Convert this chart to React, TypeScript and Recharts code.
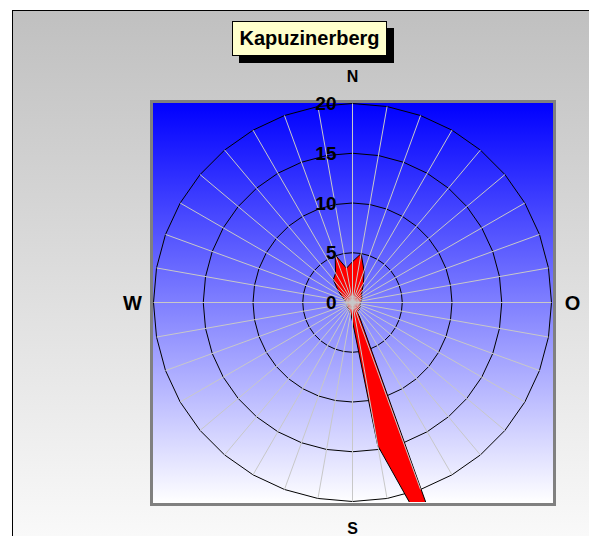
import { RadarChart, Radar, PolarGrid, PolarAngleAxis, PolarRadiusAxis } from 'recharts'

// wind direction sectors (degrees) and frequency per sector (%)
const directions = [
  0, 10, 20, 30, 40, 50, 60, 70, 80, 90, 100, 110, 120, 130, 140, 150, 160, 170,
  180, 190, 200, 210, 220, 230, 240, 250, 260, 270, 280, 290, 300, 310, 320, 330, 340, 350,
]
const frequency = [
  4.1, 5.0, 3.4, 2.2, 1.5, 1.2, 1.1, 1.0, 0.9, 0.8, 0.8, 0.8, 0.9, 0.9, 1.0, 1.0, 30, 14.6,
  1.9, 1.1, 0.9, 0.8, 0.7, 0.7, 0.6, 0.6, 0.6, 0.6, 0.7, 0.9, 1.2, 1.9, 3.0, 3.4, 5.1, 3.5,
]
const compassLabels: Record<number, string> = { 0: 'N', 90: 'O', 180: 'S', 270: 'W' }
const radiusDomain = [0, 20]
const radiusTicks = [0, 5, 10, 15, 20]
const title = 'Kapuzinerberg'

const data = directions.map((dir, i) => ({ dir, value: frequency[i] }))

const FONT = '"Liberation Sans", Arial, sans-serif'
const CX = 352.5
const CY = 302.5
const R = 199
const BORDER = 3
const W = 589
const H = 536

function AngleTick(props: any) {
  const { x, y, payload } = props
  const label = compassLabels[payload.value]
  if (!label) return <g />
  const cx = props.cx ?? CX
  const cy = props.cy ?? CY
  const dx = x - cx
  const dy = y - cy
  const len = Math.hypot(dx, dy) || 1
  const big = label === 'W' || label === 'O'
  const d = big ? 220 : 226
  return (
    <text
      x={cx + (dx / len) * d}
      y={cy + (dy / len) * d}
      textAnchor="middle"
      dominantBaseline="central"
      fontFamily={FONT}
      fontWeight="bold"
      fontSize={big ? 20 : 16}
      fill="#000"
    >
      {label}
    </text>
  )
}

function RadiusTick(props: any) {
  const { x, y, payload } = props
  return (
    <text
      x={x - 16}
      y={y}
      textAnchor="end"
      dominantBaseline="central"
      fontFamily={FONT}
      fontWeight="bold"
      fontSize={19}
      fill="#000"
    >
      {payload.value}
    </text>
  )
}

function ClippedArea(props: any) {
  const pts = (props.points || []).map((p: any) => `${p.x},${p.y}`).join(' ')
  return <polygon points={pts} fill="#ff0000" stroke="#000" strokeWidth={1} clipPath="url(#plotClip)" />
}

const layer: React.CSSProperties = { position: 'absolute', left: 0, top: 0 }

export default function App() {
  return (
    <div
      style={{
        position: 'fixed',
        left: 0,
        top: 0,
        width: W,
        height: H,
        overflow: 'hidden',
        background: '#fff',
        fontFamily: FONT,
      }}
    >
      {/* outer chart frame */}
      <div
        style={{
          position: 'absolute',
          left: 12,
          top: 10,
          width: 620,
          height: 580,
          border: '1px solid #000',
          background: 'linear-gradient(#c0c0c0, #ffffff)',
        }}
      />

      {/* plot area */}
      <div
        style={{
          position: 'absolute',
          left: CX - R - BORDER - 0.5,
          top: CY - R - BORDER - 0.5,
          width: 2 * R + 2 * BORDER + 2,
          height: 2 * R + 2 * BORDER + 2,
          boxSizing: 'border-box',
          border: `${BORDER}px solid #808080`,
          background: 'linear-gradient(#0000ff, #ffffff)',
        }}
      />

      {/* title */}
      <div
        style={{
          position: 'absolute',
          left: 232,
          top: 21,
          width: 155,
          height: 35,
          boxSizing: 'border-box',
          border: '1px solid #000',
          background: '#ffffcc',
          boxShadow: '7px 7px 0 #000',
          fontWeight: 'bold',
          fontSize: 20,
          lineHeight: '33px',
          textAlign: 'center',
          color: '#000',
        }}
      >
        {title}
      </div>

      {/* rings + wind rose area */}
      <div style={layer}>
        <RadarChart width={W} height={H} data={data} cx={CX} cy={CY} outerRadius={R} margin={{ top: 0, right: 0, bottom: 0, left: 0 }}>
          <defs>
            <clipPath id="plotClip">
              <rect x={CX - R - 0.5} y={CY - R - 0.5} width={2 * R + 1} height={2 * R + 1} />
            </clipPath>
          </defs>
          <PolarGrid gridType="polygon" radialLines={false} stroke="#000" strokeOpacity={1} />
          <PolarAngleAxis dataKey="dir" tick={false} tickLine={false} axisLine={false} />
          <PolarRadiusAxis angle={90} domain={radiusDomain} ticks={radiusTicks as any} tickCount={5} allowDataOverflow axisLine={false} tick={false} />
          <Radar
            dataKey="value"
            fill="#ff0000"
            fillOpacity={1}
            stroke="#000"
            shape={ClippedArea}
            isAnimationActive={false}
          />
        </RadarChart>
      </div>

      {/* spokes and labels drawn over the area */}
      <div style={layer}>
        <RadarChart width={W} height={H} data={data} cx={CX} cy={CY} outerRadius={R} margin={{ top: 0, right: 0, bottom: 0, left: 0 }}>
          <PolarGrid gridType="polygon" polarRadius={[]} stroke="#c8c8c8" strokeOpacity={1} />
          <PolarAngleAxis dataKey="dir" tick={AngleTick} tickLine={false} axisLine={false} />
          <PolarRadiusAxis
            angle={90}
            domain={radiusDomain}
            ticks={radiusTicks as any}
            tickCount={5}
            allowDataOverflow
            axisLine={false}
            tick={RadiusTick}
          />
        </RadarChart>
      </div>
    </div>
  )
}
